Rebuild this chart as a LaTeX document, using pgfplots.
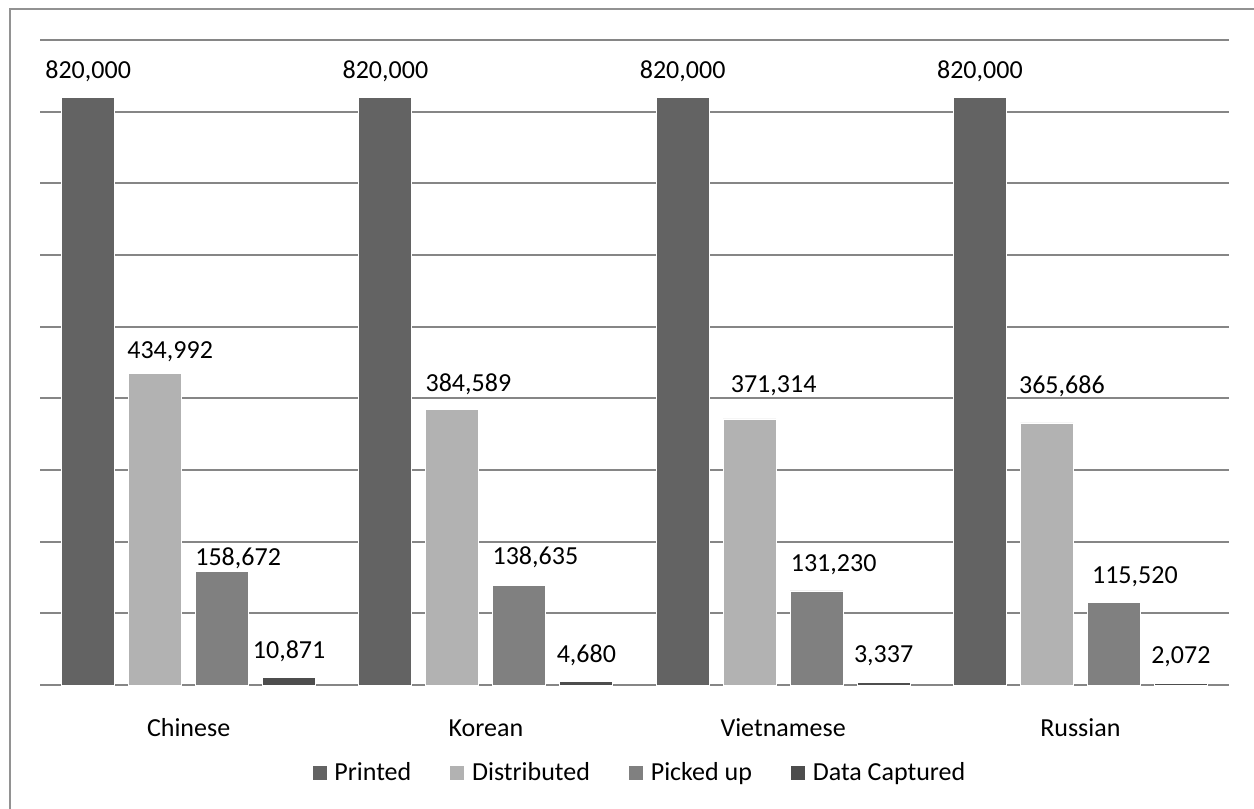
\documentclass[border=0pt]{standalone}
\usepackage{pgfplots}
\pgfplotsset{compat=1.18}
\usepackage{pgfplotstable}
\usepackage{fontspec}
\setmainfont{Carlito}

\definecolor{cprint}{HTML}{636363}
\definecolor{cdist}{HTML}{B2B2B2}
\definecolor{cpick}{HTML}{808080}
\definecolor{ccapt}{HTML}{4D4D4D}
\definecolor{cgrid}{HTML}{868686}

% x = language (0 Chinese, 1 Korean, 2 Vietnamese, 3 Russian)
% dx, dy = label offsets in pt (labels were moved by hand in the original)
\pgfplotstableread{
x y dx dy
0 820000 0 9.5
1 820000 0 9.5
2 820000 0 9.5
3 820000 0 9.5
}\printed
\pgfplotstableread{
x y dx dy
0 434992 7.5 7.5
1 384589 8 9
2 371314 12 13
3 365686 7.5 14.5
}\distributed
\pgfplotstableread{
x y dx dy
0 158672 8 3
1 138635 8 10.5
2 131230 8.5 9.5
3 115520 10.5 9.5
}\pickedup
\pgfplotstableread{
x y dx dy
0 10871 0 9.5
1 4680 0 9.5
2 3337 0 10
3 2072 0 10
}\captured

\begin{document}
\begin{tikzpicture}
\useasboundingbox (-20pt,-62pt) rectangle (607pt,342.5pt);
\draw[cgrid!90, line width=1pt] (-15pt,-62pt) -- (-15pt,338pt) -- (607pt,338pt);
\begin{axis}[
    at={(0pt,0pt)}, anchor=south west,
    scale only axis,
    width=594.5pt,
    height=322.5pt,
    ybar=7pt,
    bar width=26.5pt,
    xmin=-0.5, xmax=3.5,
    ymin=0, ymax=900000,
    xtick=data,
    xticklabels={Chinese, Korean, Vietnamese, Russian},
    ytick={0,100000,...,900000},
    yticklabels={},
    scaled y ticks=false,
    major tick length=0pt,
    tick style={draw=none},
    axis line style={draw=none},
    ymajorgrids,
    grid style={cgrid, line width=1pt},
    xticklabel style={anchor=base, yshift=-25.5pt},
    font=\fontsize{13pt}{15pt}\selectfont,
    clip=false,
    /pgf/number format/.cd, fixed, precision=0, 1000 sep={,}, assume math mode=true,
    /pgfplots/.cd,
    legend columns=-1,
    legend style={draw=none, fill=none, at={(0.505,-0.136)}, anchor=center,
        /tikz/every even column/.append style={column sep=17pt},
        font=\fontsize{13pt}{15pt}\selectfont},
    legend image code/.code={\fill[#1] (0pt,-3.75pt) rectangle (7.5pt,3.75pt); \path (9pt,0pt);},
    barlabels/.style={
        nodes near coords,
        visualization depends on={\thisrow{dx}\as\mydx},
        visualization depends on={\thisrow{dy}\as\mydy},
        nodes near coords style={anchor=base, xshift=\mydx, yshift=\mydy, font=\fontsize{13pt}{15pt}\selectfont},
    },
]
\addplot[fill=cprint, draw=white, line width=0.4pt, barlabels] table[x=x, y=y] {\printed};
\addlegendentry{Printed}
\addplot[fill=cdist, draw=white, line width=0.4pt, barlabels] table[x=x, y=y] {\distributed};
\addlegendentry{Distributed}
\addplot[fill=cpick, draw=white, line width=0.4pt, barlabels] table[x=x, y=y] {\pickedup};
\addlegendentry{Picked up}
\addplot[fill=ccapt, draw=white, line width=0.4pt, barlabels] table[x=x, y=y] {\captured};
\addlegendentry{Data Captured}
\end{axis}
\end{tikzpicture}
\end{document}
